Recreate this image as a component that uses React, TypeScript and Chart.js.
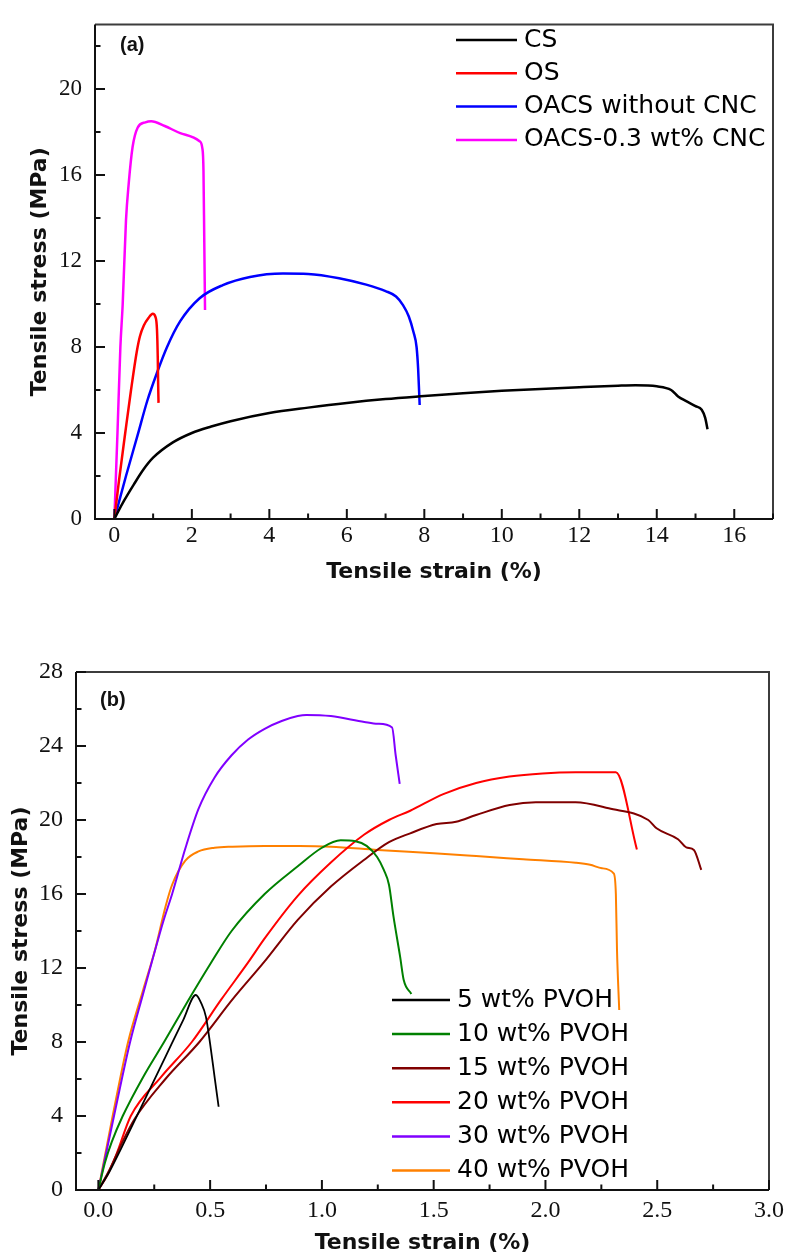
import React, { useEffect, useRef } from "react";
import { Chart, registerables } from "chart.js";

Chart.register(...registerables);

type Pt = [number, number];

// ---------- Panel (a) data ----------
const A_LABELS = ["CS", "OS", "OACS without CNC", "OACS-0.3 wt% CNC"];
const A_COLORS = ["#000000", "#FF0000", "#0000FF", "#FF00FF"];

const A_CS: Pt[] = [
  [0, 0], [0.1, 0.35], [0.25, 0.85], [0.5, 1.6], [0.75, 2.3], [1.0, 2.85], [1.5, 3.55],
  [2.0, 4.0], [2.5, 4.3], [3.0, 4.55], [4.0, 4.93], [5.0, 5.18], [6.0, 5.4], [7.0, 5.58],
  [8.0, 5.72], [9.0, 5.85], [10.0, 5.96], [11.0, 6.05], [12.0, 6.13], [13.0, 6.2],
  [13.45, 6.22], [14.0, 6.17], [14.37, 6.0], [14.55, 5.7], [14.76, 5.48], [15.0, 5.25],
  [15.16, 5.08], [15.25, 4.7], [15.31, 4.17],
];
const A_OS: Pt[] = [
  [0, 0], [0.12, 1.8], [0.28, 4.0], [0.43, 6.0], [0.58, 7.8], [0.66, 8.5], [0.76, 9.0],
  [0.88, 9.35], [0.99, 9.55], [1.06, 9.4], [1.1, 8.8], [1.12, 7.5], [1.13, 6.3], [1.14, 5.4],
];
const A_OACS: Pt[] = [
  [0, 0], [0.3, 2.0], [0.6, 3.9], [0.85, 5.5], [1.1, 6.8], [1.36, 8.0], [1.7, 9.2],
  [2.2, 10.27], [2.8, 10.88], [3.5, 11.26], [4.35, 11.42], [5.0, 11.4], [5.8, 11.2],
  [6.5, 10.9], [7.0, 10.6], [7.27, 10.35], [7.45, 9.95], [7.6, 9.42], [7.72, 8.7],
  [7.8, 8.0], [7.84, 7.0], [7.88, 5.3],
];
const A_CNC: Pt[] = [
  [0, 0], [0.08, 4.0], [0.155, 8.0], [0.215, 10.0], [0.3, 13.9], [0.37, 15.6], [0.47, 17.3],
  [0.6, 18.2], [0.8, 18.45], [0.95, 18.5], [1.3, 18.28], [1.7, 17.95], [2.2, 17.57],
  [2.27, 17.25], [2.3, 16.2], [2.32, 13.0], [2.34, 9.72],
];
const A_SERIES: Pt[][] = [A_CS, A_OS, A_OACS, A_CNC];
const A_X_TICKS = [0, 2, 4, 6, 8, 10, 12, 14, 16];
const A_Y_TICKS = [0, 4, 8, 12, 16, 20];

// ---------- Panel (b) data ----------
const B_LABELS = ["5 wt% PVOH", "10 wt% PVOH", "15 wt% PVOH", "20 wt% PVOH", "30 wt% PVOH", "40 wt% PVOH"];
const B_COLORS = ["#000000", "#008000", "#800000", "#FF0000", "#8000FF", "#FF8000"];

const B_5: Pt[] = [
  [0, 0], [0.05, 1.0], [0.1, 2.2], [0.2, 4.7], [0.3, 7.2], [0.38, 9.2], [0.436, 10.54],
  [0.46, 10.1], [0.481, 9.37], [0.5, 7.9], [0.52, 6.1], [0.538, 4.5],
];
const B_10: Pt[] = [
  [0, 0], [0.03, 1.5], [0.06, 2.6], [0.109, 4.0], [0.2, 6.1], [0.294, 8.0], [0.4, 10.2],
  [0.5, 12.2], [0.596, 14.0], [0.744, 16.0], [0.892, 17.5], [1.0, 18.5], [1.084, 18.9],
  [1.15, 18.85], [1.2, 18.6], [1.247, 18.0], [1.277, 17.3], [1.3, 16.5], [1.32, 14.8],
  [1.35, 12.6], [1.366, 11.35], [1.4, 10.6],
];
const B_15: Pt[] = [
  [0, 0], [0.05, 1.1], [0.1, 2.4], [0.16, 3.8], [0.3, 6.0], [0.452, 8.0], [0.6, 10.3],
  [0.74, 12.3], [0.892, 14.6], [1.04, 16.4], [1.188, 17.84], [1.3, 18.8], [1.395, 19.28],
  [1.513, 19.78], [1.6, 19.9], [1.69, 20.27], [1.84, 20.81], [1.957, 20.96], [2.135, 20.96],
  [2.283, 20.63], [2.46, 20.0], [2.497, 19.55], [2.593, 18.96], [2.63, 18.52], [2.664, 18.38],
  [2.697, 17.3],
];
const B_20: Pt[] = [
  [0, 0], [0.04, 0.8], [0.08, 1.9], [0.145, 4.0], [0.28, 6.1], [0.418, 8.0], [0.55, 10.3],
  [0.67, 12.3], [0.744, 13.6], [0.892, 15.9], [1.04, 17.7], [1.188, 19.2], [1.3, 20.0],
  [1.395, 20.5], [1.543, 21.4], [1.69, 22.0], [1.839, 22.35], [1.987, 22.52], [2.135, 22.58],
  [2.315, 22.58], [2.409, 18.41],
];
const B_30: Pt[] = [
  [0, 0], [0.07, 4.0], [0.142, 8.0], [0.2, 10.6], [0.241, 12.4], [0.29, 14.5], [0.33, 16.0],
  [0.39, 18.5], [0.448, 20.6], [0.52, 22.3], [0.596, 23.5], [0.67, 24.35], [0.744, 24.93],
  [0.82, 25.35], [0.892, 25.62], [0.93, 25.68], [1.04, 25.62], [1.19, 25.3], [1.25, 25.2],
  [1.314, 25.0], [1.33, 23.5], [1.348, 21.95],
];
const B_40: Pt[] = [
  [0, 0], [0.064, 4.0], [0.133, 8.0], [0.2, 10.8], [0.254, 13.0], [0.3, 15.3], [0.33, 16.5],
  [0.389, 17.8], [0.448, 18.3], [0.52, 18.5], [0.6, 18.56], [0.744, 18.6], [0.9, 18.6],
  [1.04, 18.56], [1.25, 18.38], [1.5, 18.2], [1.69, 18.05], [1.9, 17.88], [2.135, 17.69],
  [2.2, 17.58], [2.253, 17.39], [2.305, 17.12], [2.315, 16.0], [2.32, 13.0], [2.33, 9.73],
];
const B_SERIES: Pt[][] = [B_5, B_10, B_15, B_20, B_30, B_40];
const B_X_TICKS = [0, 0.5, 1.0, 1.5, 2.0, 2.5, 3.0];
const B_Y_TICKS = [0, 4, 8, 12, 16, 20, 24, 28];

// ---------- decoration plugin: frame, inward ticks, legend, panel label ----------
const decorPlugin = {
  id: "decor",
  afterDraw(chart: any, _args: any, opts: any) {
    const { ctx, chartArea: ca } = chart;
    const xs = chart.scales.x;
    const ys = chart.scales.y;
    ctx.save();

    // frame
    ctx.lineWidth = 2;
    ctx.strokeStyle = "#3c3c3c";
    ctx.beginPath();
    ctx.moveTo(ca.left, ca.top);
    ctx.lineTo(ca.right, ca.top);
    ctx.lineTo(ca.right, ca.bottom);
    ctx.stroke();
    ctx.strokeStyle = "#111";
    ctx.beginPath();
    ctx.moveTo(ca.left, ca.top);
    ctx.lineTo(ca.left, ca.bottom);
    ctx.lineTo(ca.right, ca.bottom);
    ctx.stroke();

    // inward ticks (major + minor)
    const drawTicks = (scale: any, minorStep: number, horizontal: boolean) => {
      const majors = scale.ticks.map((t: any) => t.value);
      const k0 = Math.ceil(scale.min / minorStep - 1e-9);
      const k1 = Math.floor(scale.max / minorStep + 1e-9);
      ctx.strokeStyle = "#111";
      ctx.lineWidth = 2;
      for (let k = k0; k <= k1; k++) {
        const v = k * minorStep;
        const isMajor = majors.some((m: number) => Math.abs(m - v) < 1e-6);
        const len = isMajor ? 10 : 5.5;
        const p = scale.getPixelForValue(v);
        ctx.beginPath();
        if (horizontal) {
          ctx.moveTo(p, ca.bottom);
          ctx.lineTo(p, ca.bottom - len);
        } else {
          ctx.moveTo(ca.left, p);
          ctx.lineTo(ca.left + len, p);
        }
        ctx.stroke();
      }
    };
    drawTicks(xs, opts.xMinor, true);
    drawTicks(ys, opts.yMinor, false);

    // legend
    const lg = opts.legend;
    ctx.font = lg.font;
    ctx.textBaseline = "middle";
    ctx.textAlign = "left";
    chart.data.datasets.forEach((ds: any, i: number) => {
      const y = lg.y + i * lg.dy;
      ctx.strokeStyle = ds.borderColor;
      ctx.lineWidth = 2.5;
      ctx.beginPath();
      ctx.moveTo(lg.x0, y);
      ctx.lineTo(lg.x1, y);
      ctx.stroke();
      ctx.fillStyle = "#000";
      ctx.fillText(ds.label, lg.tx, y);
    });

    // panel label
    const pl = opts.panel;
    ctx.font = 'bold 20px "Liberation Sans", Arial, sans-serif';
    ctx.fillStyle = "#111";
    ctx.fillText(pl.text, pl.x, pl.y);
    ctx.restore();
  },
};

const tickFont = (size: number) => ({
  family: '"Liberation Serif", "Times New Roman", serif',
  size,
  lineHeight: 1,
});
const titleFont = {
  family: '"DejaVu Sans", sans-serif',
  size: 22,
  weight: "bold" as const,
  lineHeight: 1,
};

function makeDatasets(series: Pt[][], labels: string[], colors: string[], widths: number[]) {
  return series.map((s, i) => ({
    label: labels[i],
    data: s.map(([x, y]) => ({ x, y })),
    borderColor: colors[i],
    backgroundColor: colors[i],
    borderWidth: widths[i],
    showLine: true,
    pointRadius: 0,
    pointHoverRadius: 0,
    fill: false,
    cubicInterpolationMode: "monotone",
  }));
}

function buildConfig(p: any) {
  return {
    type: "scatter",
    data: { datasets: p.datasets },
    plugins: [decorPlugin],
    options: {
      responsive: false,
      animation: false,
      events: [],
      layout: { padding: p.padding },
      plugins: {
        legend: { display: false },
        tooltip: { enabled: false },
        decor: p.decor,
      },
      scales: {
        x: {
          type: "linear",
          min: p.xMin,
          max: p.xMax,
          grid: { display: false, drawTicks: false },
          border: { display: false },
          afterBuildTicks: (s: any) => {
            s.ticks = p.xTicks.map((v: number) => ({ value: v }));
          },
          afterFit: (s: any) => {
            s.height = p.xHeight;
          },
          ticks: {
            font: tickFont(24),
            color: "#111",
            padding: p.xTickPad,
            maxRotation: 0,
            autoSkip: false,
            callback: p.xFmt,
          },
          title: {
            display: true,
            text: "Tensile strain (%)",
            font: titleFont,
            color: "#111",
            padding: { top: 0, bottom: p.xTitlePad },
          },
        },
        y: {
          type: "linear",
          min: p.yMin,
          max: p.yMax,
          grid: { display: false, drawTicks: false },
          border: { display: false },
          afterBuildTicks: (s: any) => {
            s.ticks = p.yTicks.map((v: number) => ({ value: v }));
          },
          afterFit: (s: any) => {
            s.width = p.yWidth;
          },
          ticks: {
            font: tickFont(p.yTickSize),
            color: "#111",
            padding: 13,
            autoSkip: false,
            callback: (v: any) => String(v),
          },
          title: {
            display: true,
            text: "Tensile stress (MPa)",
            font: titleFont,
            color: "#111",
            padding: { top: p.yTitlePad, bottom: 0 },
          },
        },
      },
    },
  };
}

function ChartCanvas({ top, height, cfg }: { top: number; height: number; cfg: any }) {
  const ref = useRef<HTMLCanvasElement | null>(null);
  useEffect(() => {
    if (!ref.current) return;
    const chart = new Chart(ref.current, buildConfig(cfg) as any);
    return () => chart.destroy();
  }, []);
  return (
    <canvas
      ref={ref}
      width={793}
      height={height}
      style={{ position: "absolute", left: 0, top, width: 793, height, display: "block" }}
    />
  );
}

const CFG_A = {
  datasets: makeDatasets(A_SERIES, A_LABELS, A_COLORS, [2.5, 2.5, 2.5, 2.5]),
  padding: { left: 0, top: 15, right: 20, bottom: 0 },
  xMin: -0.5,
  xMax: 17,
  yMin: 0,
  yMax: 23,
  xTicks: A_X_TICKS,
  yTicks: A_Y_TICKS,
  xHeight: 101,
  yWidth: 95,
  xTickPad: 5,
  yTickSize: 23,
  xTitlePad: 37,
  yTitlePad: 29,
  xFmt: (v: any) => String(v),
  decor: {
    xMinor: 1,
    yMinor: 2,
    legend: { x0: 456, x1: 517, tx: 524, y: 40, dy: 33.3, font: '25px "DejaVu Sans", sans-serif' },
    panel: { text: "(a)", x: 120, y: 45 },
  },
};

const CFG_B = {
  datasets: makeDatasets(B_SERIES, B_LABELS, B_COLORS, [1.8, 2, 2, 2, 2, 2]),
  padding: { left: 0, top: 52, right: 20, bottom: 0 },
  xMin: -0.1,
  xMax: 3.0,
  yMin: 0,
  yMax: 28,
  xTicks: B_X_TICKS,
  yTicks: B_Y_TICKS,
  xHeight: 66,
  yWidth: 76,
  xTickPad: 9,
  yTickSize: 24,
  xTitlePad: 2,
  yTitlePad: 10.7,
  xFmt: (v: any) => Number(v).toFixed(1),
  decor: {
    xMinor: 0.25,
    yMinor: 2,
    legend: { x0: 392, x1: 450, tx: 457, y: 380, dy: 34.1, font: '25px "DejaVu Sans", sans-serif' },
    panel: { text: "(b)", x: 100, y: 80 },
  },
};

export default function App() {
  return (
    <div style={{ position: "absolute", left: 0, top: 0, width: 793, height: 1256, background: "#fff" }}>
      <ChartCanvas top={0} height={620} cfg={CFG_A} />
      <ChartCanvas top={620} height={636} cfg={CFG_B} />
    </div>
  );
}
